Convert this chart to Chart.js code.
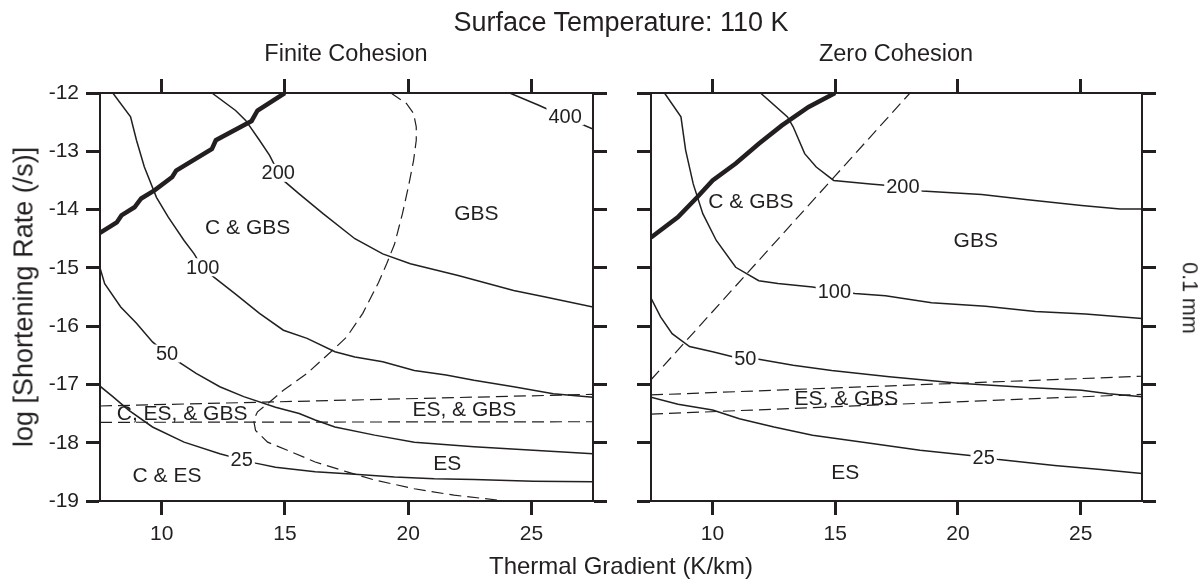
<!DOCTYPE html>
<html>
<head>
<meta charset="utf-8">
<script src="https://cdn.jsdelivr.net/npm/chart.js@4.4.1/dist/chart.umd.min.js"></script>
<style>
body { margin: 0; background: #fff; }
#wrap { position: relative; width: 1204px; height: 579px; font-family: "Liberation Sans", Arial, sans-serif; color: #231f20; }
canvas { position: absolute; left: 0; top: 0; }
.txt { position: absolute; line-height: 1; white-space: nowrap; transform: translate(-50%, -50%); }
</style>
</head>
<body>
<div id="wrap">
  <canvas id="finite" width="1204" height="579"></canvas>
  <canvas id="zero" width="1204" height="579"></canvas>
  <div class="txt" style="left:621px;top:22px;font-size:27px">Surface Temperature: 110 K</div>
  <div class="txt" style="left:346px;top:54px;font-size:23.5px">Finite Cohesion</div>
  <div class="txt" style="left:896px;top:54px;font-size:23.5px">Zero Cohesion</div>
  <div class="txt" style="left:621px;top:566px;font-size:24px">Thermal Gradient (K/km)</div>
  <div class="txt" style="left:24px;top:297px;font-size:27px;transform:translate(-50%,-50%) rotate(-90deg)">log [Shortening Rate (/s)]</div>
  <div class="txt" style="left:1189px;top:298px;font-size:21.5px;transform:translate(-50%,-50%) rotate(90deg)">0.1 mm</div>
</div>
<script>
const INK = '#231f20';
const FONT = '"Liberation Sans", Arial, sans-serif';

// axis ticks
const xTickValues = [10, 15, 20, 25];
const xRange = [7.5, 27.5];
const yRange = [-19, -12];

// ---- Finite Cohesion panel ----
const finiteThick = [[7.5,-14.40],[8.18,-14.22],[8.37,-14.10],[8.90,-13.96],[9.17,-13.81],[9.71,-13.67],[10.43,-13.44],[10.59,-13.33],[12.04,-12.96],[12.20,-12.81],[13.65,-12.48],[13.89,-12.30],[15.0,-12.0]];
const finite400 = [[24.12,-12.0],[25.3,-12.21],[26.4,-12.42],[27.5,-12.62]];
const finite200 = [[12.04,-12.0],[13.0,-12.30],[13.41,-12.47],[13.97,-12.81],[14.38,-13.07],[14.73,-13.36],[14.94,-13.50],[15.58,-13.73],[16.55,-14.07],[17.84,-14.50],[18.97,-14.76],[20.09,-14.93],[22.03,-15.13],[24.28,-15.39],[25.57,-15.50],[27.5,-15.67]];
const finite100 = [[8.02,-12.0],[8.74,-12.41],[8.98,-12.81],[9.30,-13.27],[9.79,-13.79],[10.27,-14.13],[10.91,-14.53],[11.32,-14.76],[11.64,-14.99],[12.12,-15.16],[13.0,-15.45],[13.97,-15.78],[14.94,-16.07],[15.9,-16.21],[17.03,-16.44],[17.84,-16.53],[18.97,-16.61],[20.25,-16.76],[21.54,-16.84],[22.67,-16.93],[24.28,-17.04],[25.89,-17.16],[27.5,-17.22]];
const finite50 = [[7.5,-15.0],[7.69,-15.27],[8.34,-15.67],[8.98,-15.95],[9.63,-16.27],[10.19,-16.47],[10.75,-16.63],[11.40,-16.81],[12.36,-17.04],[13.33,-17.21],[14.62,-17.39],[15.58,-17.50],[16.23,-17.61],[17.03,-17.73],[18.64,-17.87],[20.25,-17.99],[22.67,-18.07],[25.08,-18.13],[27.5,-18.19]];
const finite25 = [[7.5,-17.03],[8.02,-17.21],[8.66,-17.44],[9.63,-17.73],[10.91,-17.99],[12.36,-18.19],[13.25,-18.29],[13.81,-18.35],[14.62,-18.42],[16.23,-18.50],[17.84,-18.54],[19.45,-18.59],[21.06,-18.62],[22.67,-18.63],[25.08,-18.66],[27.5,-18.67]];
const finiteDashCurve = [[19.3,-12.0],[19.93,-12.18],[20.22,-12.35],[20.33,-12.58],[20.33,-12.81],[20.22,-13.16],[20.01,-13.61],[19.77,-14.07],[19.45,-14.59],[19.13,-14.93],[18.8,-15.25],[18.16,-15.78],[17.52,-16.18],[16.87,-16.44],[15.9,-16.81],[14.94,-17.10],[14.3,-17.33],[13.89,-17.47],[13.73,-17.61],[13.81,-17.79],[14.3,-17.99],[15.1,-18.13],[16.23,-18.33],[17.52,-18.50],[18.64,-18.64],[20.25,-18.79],[21.86,-18.90],[23.96,-19.0]];
const finiteDashUpper = [[7.5,-17.37],[27.5,-17.17]];
const finiteDashLower = [[7.5,-17.65],[27.5,-17.64]];
const finiteContourLabels = [['400',26.37,-12.40],['200',14.73,-13.37],['100',11.67,-14.99],['50',10.22,-16.47],['25',13.25,-18.29]];
const finiteRegionLabels = [['C & GBS',13.49,-14.30],['GBS',22.77,-14.06],['C, ES, & GBS',10.83,-17.50],['ES, & GBS',22.28,-17.43],['ES',21.59,-18.35],['C & ES',10.22,-18.56]];

// ---- Zero Cohesion panel ----
const zeroThick = [[7.5,-14.48],[8.60,-14.13],[9.38,-13.79],[10.01,-13.50],[10.95,-13.21],[11.89,-12.87],[12.82,-12.56],[13.92,-12.24],[15.0,-12.0]];
const zero200 = [[11.96,-12.0],[13.06,-12.41],[13.29,-12.58],[13.76,-13.04],[14.23,-13.27],[14.94,-13.50],[16.43,-13.56],[17.76,-13.61],[18.54,-13.68],[20.97,-13.74],[22.85,-13.83],[25.04,-13.93],[26.61,-13.99],[27.5,-13.99]];
const zero100 = [[8.05,-12.0],[8.72,-12.41],[8.91,-12.98],[9.22,-13.56],[9.61,-14.07],[10.16,-14.53],[10.95,-14.99],[11.89,-15.22],[12.67,-15.27],[14.08,-15.33],[14.94,-15.39],[15.8,-15.44],[17.05,-15.48],[18.93,-15.60],[21.13,-15.66],[23.16,-15.75],[25.20,-15.79],[27.5,-15.87]];
const zero50 = [[7.5,-15.52],[7.89,-15.84],[8.36,-16.13],[9.07,-16.35],[10.01,-16.44],[10.87,-16.53],[11.34,-16.56],[11.89,-16.57],[13.29,-16.67],[14.86,-16.76],[17.21,-16.87],[20.03,-16.98],[22.69,-17.05],[25.04,-17.10],[26.14,-17.16],[27.5,-17.21]];
const zero25 = [[7.5,-17.22],[8.60,-17.34],[10.01,-17.44],[11.1,-17.59],[12.51,-17.73],[14.08,-17.87],[16.43,-18.01],[18.46,-18.13],[20.5,-18.22],[21.05,-18.25],[21.67,-18.29],[23.94,-18.39],[25.82,-18.46],[27.5,-18.53]];
const zeroDashDiag = [[7.5,-16.92],[18.05,-12.0]];
const zeroDashUpper = [[7.5,-17.18],[27.5,-16.86]];
const zeroDashLower = [[7.5,-17.51],[27.5,-17.17]];
const zeroContourLabels = [['200',17.76,-13.61],['100',14.97,-15.40],['50',11.34,-16.55],['25',21.05,-18.26]];
const zeroRegionLabels = [['C & GBS',11.57,-13.85],['GBS',20.73,-14.53],['ES, & GBS',15.46,-17.24],['ES',15.41,-18.51]];

// draws contour values (white box behind) and region names
const textPlugin = {
    id: 'panelText',
    afterDatasetsDraw(chart, args, opts) {
        const ctx = chart.ctx;
        const sx = chart.scales.x, sy = chart.scales.y;
        ctx.save();
        ctx.textAlign = 'center';
        ctx.textBaseline = 'middle';
        ctx.font = '20px ' + FONT;
        opts.contours.forEach(([t, vx, vy]) => {
            const px = sx.getPixelForValue(vx), py = sy.getPixelForValue(vy);
            const w = ctx.measureText(t).width;
            ctx.fillStyle = '#fff';
            ctx.fillRect(px - w / 2 - 2, py - 9, w + 4, 18);
            ctx.fillStyle = INK;
            ctx.fillText(t, px, py + 1);
        });
        ctx.font = '21px ' + FONT;
        ctx.fillStyle = INK;
        opts.regions.forEach(([t, vx, vy]) => {
            ctx.fillText(t, sx.getPixelForValue(vx), sy.getPixelForValue(vy) + 1);
        });
        ctx.restore();
    }
};

// scale boxes are fixed so the plot area sits where it should
const SIDE = 60;

function axisOpts(pos, showLabels, extra) {
    return Object.assign({
        type: 'linear',
        position: pos,
        ticks: { display: showLabels, color: INK, font: { family: FONT, size: 21 }, padding: 7, autoSkip: false },
        grid: { drawOnChartArea: false, drawTicks: true, tickLength: 14, tickWidth: 3, tickColor: INK },
        border: { display: true, color: INK, width: 2 }
    }, extra);
}

function makePanel(id, lines, contours, regions, box, showY) {
    const datasets = lines.map(l => ({
        data: l.pts.map(p => ({ x: p[0], y: p[1] })),
        borderColor: INK,
        borderWidth: l.w,
        borderDash: l.dash || [],
        pointRadius: 0,
        showLine: true,
        tension: 0,
        fill: false
    }));
    const setX = s => { s.ticks = xTickValues.map(v => ({ value: v })); };
    return new Chart(document.getElementById(id), {
        type: 'scatter',
        data: { datasets },
        options: {
            responsive: false,
            animation: false,
            events: [],
            layout: { padding: { left: box.left - SIDE, right: 1204 - box.right - SIDE, top: box.top - 30, bottom: 579 - box.bottom - SIDE } },
            plugins: {
                legend: { display: false },
                tooltip: { enabled: false },
                panelText: { contours, regions }
            },
            scales: {
                x: axisOpts('bottom', true, { min: xRange[0], max: xRange[1], afterBuildTicks: setX, afterFit: s => { s.height = SIDE; } }),
                x2: axisOpts('top', false, { axis: 'x', min: xRange[0], max: xRange[1], afterBuildTicks: setX, afterFit: s => { s.height = 30; } }),
                y: axisOpts('left', showY, { min: yRange[0], max: yRange[1], afterFit: s => { s.width = SIDE; } }),
                y2: axisOpts('right', false, { axis: 'y', min: yRange[0], max: yRange[1], afterFit: s => { s.width = SIDE; } })
            }
        },
        plugins: [textPlugin]
    });
}

const dash = [12, 6];

makePanel('finite', [
    { pts: finite400, w: 1.5 },
    { pts: finite200, w: 1.5 },
    { pts: finite100, w: 1.5 },
    { pts: finite50, w: 1.5 },
    { pts: finite25, w: 1.5 },
    { pts: finiteDashCurve, w: 1.2, dash },
    { pts: finiteDashUpper, w: 1.2, dash },
    { pts: finiteDashLower, w: 1.2, dash },
    { pts: finiteThick, w: 4.5 }
], finiteContourLabels, finiteRegionLabels, { left: 100, right: 593, top: 93, bottom: 501 }, true);

makePanel('zero', [
    { pts: zero200, w: 1.5 },
    { pts: zero100, w: 1.5 },
    { pts: zero50, w: 1.5 },
    { pts: zero25, w: 1.5 },
    { pts: zeroDashDiag, w: 1.2, dash },
    { pts: zeroDashUpper, w: 1.2, dash },
    { pts: zeroDashLower, w: 1.2, dash },
    { pts: zeroThick, w: 4.5 }
], zeroContourLabels, zeroRegionLabels, { left: 651, right: 1142, top: 93, bottom: 501 }, false);
</script>
</body>
</html>
